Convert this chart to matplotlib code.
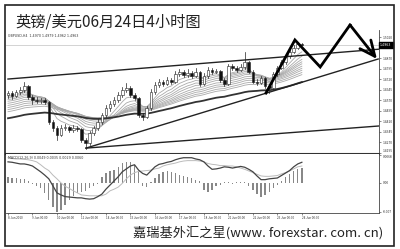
import matplotlib
matplotlib.use("Agg")
import matplotlib.pyplot as plt
import pandas as pd
from matplotlib.patches import Rectangle

plt.rcParams['font.family'] = ['Noto Sans CJK SC', 'DejaVu Sans']

# GBPUSD H4, 8 Jun 2010 .. 24 Jun 2010
close = [1.4620, 1.4599, 1.4627, 1.4642, 1.4670, 1.4592, 1.4570, 1.4563, 1.4570, 1.4556,
         1.4413, 1.4370, 1.4320, 1.4370, 1.4377, 1.4356, 1.4370, 1.4363, 1.4285, 1.4263,
         1.4335, 1.4370, 1.4413, 1.4463, 1.4513, 1.4542, 1.4570, 1.4606, 1.4642, 1.4656,
         1.4606, 1.4584, 1.4463, 1.4449, 1.4513, 1.4627, 1.4677, 1.4699, 1.4684, 1.4713,
         1.4699, 1.4756, 1.4770, 1.4749, 1.4763, 1.4742, 1.4770, 1.4684, 1.4742, 1.4784,
         1.4770, 1.4777, 1.4713, 1.4684, 1.4813, 1.4799, 1.4784, 1.4806, 1.4841, 1.4770,
         1.4699, 1.4692, 1.4727, 1.4670, 1.4656, 1.4756, 1.4799, 1.4841, 1.4884, 1.4913,
         1.4941, 1.4970, 1.4963]
opens = [1.4605] + close[:-1]
high = [1.4638, 1.4632, 1.4645, 1.4660, 1.4700, 1.4680, 1.4605, 1.4590, 1.4585, 1.4582,
        1.4565, 1.4430, 1.4385, 1.4392, 1.4398, 1.4388, 1.4395, 1.4384, 1.4372, 1.4300,
        1.4352, 1.4388, 1.4432, 1.4480, 1.4535, 1.4560, 1.4590, 1.4625, 1.4665, 1.4690,
        1.4668, 1.4620, 1.4595, 1.4478, 1.4530, 1.4650, 1.4700, 1.4718, 1.4712, 1.4735,
        1.4728, 1.4778, 1.4795, 1.4782, 1.4790, 1.4775, 1.4800, 1.4778, 1.4760, 1.4805,
        1.4798, 1.4795, 1.4788, 1.4725, 1.4830, 1.4825, 1.4815, 1.4828, 1.4913, 1.4852,
        1.4785, 1.4720, 1.4745, 1.4735, 1.4680, 1.4770, 1.4815, 1.4858, 1.4900, 1.4930,
        1.4960, 1.4985, 1.4979]
low = [1.4585, 1.4575, 1.4590, 1.4615, 1.4630, 1.4575, 1.4545, 1.4548, 1.4550, 1.4540,
       1.4400, 1.4350, 1.4285, 1.4310, 1.4355, 1.4340, 1.4345, 1.4350, 1.4270, 1.4221,
       1.4250, 1.4320, 1.4355, 1.4400, 1.4450, 1.4495, 1.4530, 1.4555, 1.4590, 1.4630,
       1.4590, 1.4570, 1.4450, 1.4425, 1.4440, 1.4500, 1.4610, 1.4665, 1.4670, 1.4675,
       1.4685, 1.4690, 1.4745, 1.4735, 1.4738, 1.4728, 1.4735, 1.4670, 1.4675, 1.4730,
       1.4755, 1.4760, 1.4700, 1.4668, 1.4675, 1.4785, 1.4770, 1.4775, 1.4795, 1.4760,
       1.4690, 1.4675, 1.4685, 1.4655, 1.4620, 1.4645, 1.4745, 1.4790, 1.4830, 1.4872,
       1.4905, 1.4935, 1.4962]

ma_periods = [6, 9, 12, 15, 18, 22, 26, 30, 35, 40]
ma_seeds = [1.4600, 1.4592, 1.4580, 1.4568, 1.4555, 1.4540, 1.4525, 1.4510, 1.4495, 1.4480]
slow_period = 60
slow_seed = 1.4434

macd_hist = [0.0015, 0.0012, 0.0012, 0.0010, 0.0010, 0.0005, -0.0002, -0.0007, -0.0012, -0.0024,
             -0.0041, -0.0058, -0.0070, -0.0065, -0.0053, -0.0041, -0.0031, -0.0024, -0.0022, -0.0019,
             -0.0012, -0.0007, -0.0002, 0.0015, 0.0024, 0.0029, 0.0031, 0.0039, 0.0048, 0.0051,
             0.0051, 0.0044, 0.0027, -0.0007, -0.0010, 0.0002, 0.0012, 0.0022, 0.0027, 0.0029,
             0.0027, 0.0024, 0.0019, 0.0017, 0.0015, 0.0012, 0.0007, 0.0005, -0.0017, -0.0022,
             -0.0017, -0.0007, -0.0005, 0.0002, 0.0002, -0.0002, 0.0002, 0.0002, 0.0002, -0.0007,
             -0.0017, -0.0027, -0.0034, -0.0029, -0.0022, -0.0012, -0.0005, 0.0005, 0.0015, 0.0022,
             0.0029, 0.0034, 0.0036]
macd_main = [0.0051, 0.0050, 0.0048, 0.0046, 0.0046, 0.0044, 0.0041, 0.0034, 0.0027, 0.0019,
             0.0010, -0.0007, -0.0024, -0.0029, -0.0033, -0.0034, -0.0035, -0.0036, -0.0036, -0.0038,
             -0.0039, -0.0038, -0.0033, -0.0027, -0.0015, -0.0005, 0.0005, 0.0015, 0.0027, 0.0034,
             0.0041, 0.0044, 0.0031, 0.0023, 0.0019, 0.0029, 0.0039, 0.0045, 0.0047, 0.0050,
             0.0052, 0.0056, 0.0059, 0.0061, 0.0061, 0.0061, 0.0058, 0.0056, 0.0051, 0.0041,
             0.0033, 0.0034, 0.0036, 0.0039, 0.0038, 0.0036, 0.0038, 0.0040, 0.0038, 0.0033,
             0.0027, 0.0017, 0.0008, 0.0008, 0.0010, 0.0011, 0.0012, 0.0018, 0.0024, 0.0030,
             0.0039, 0.0046, 0.0050]
macd_signal = [0.0061, 0.0059, 0.0058, 0.0058, 0.0057, 0.0056, 0.0054, 0.0051, 0.0044, 0.0036,
               0.0030, 0.0019, 0.0010, 0.0000, -0.0008, -0.0013, -0.0019, -0.0024, -0.0029, -0.0030,
               -0.0031, -0.0031, -0.0031, -0.0031, -0.0027, -0.0019, -0.0015, -0.0010, -0.0001, 0.0010,
               0.0019, 0.0025, 0.0028, 0.0029, 0.0030, 0.0031, 0.0034, 0.0036, 0.0041, 0.0044,
               0.0046, 0.0048, 0.0051, 0.0053, 0.0054, 0.0054, 0.0054, 0.0053, 0.0051, 0.0047,
               0.0045, 0.0044, 0.0042, 0.0042, 0.0041, 0.0041, 0.0039, 0.0036, 0.0033, 0.0029,
               0.0025, 0.0021, 0.0017, 0.0016, 0.0016, 0.0017, 0.0018, 0.0022, 0.0025, 0.0029,
               0.0034, 0.0039, 0.0041]

date_ticks = list(range(0, 73, 6))
date_labels = ['8 Jun 2010', '9 Jun 00:00', '10 Jun 00:00', '11 Jun 00:00', '14 Jun 00:00',
               '15 Jun 00:00', '16 Jun 00:00', '17 Jun 00:00', '18 Jun 00:00', '21 Jun 00:00',
               '22 Jun 00:00', '23 Jun 00:00', '24 Jun 00:00']
price_ticks = [1.5020, 1.4945, 1.4870, 1.4795, 1.4720, 1.4645, 1.4570, 1.4495,
               1.4420, 1.4345, 1.4270, 1.4195]

# hand drawn trend lines (bar index, price)
channel_top = ([0, 90.9], [1.4720, 1.4933])
support_steep = ([19.1, 90.7], [1.4227, 1.4863])
support_flat = ([19.1, 90.9], [1.4227, 1.4385])
zigzag_x = [63.2, 70.3, 76.5, 83.8]
zigzag_y = [1.4620, 1.4999, 1.4806, 1.5106]
arrow_end = (90.4, 1.4863)

W, H = 400, 249


def px_rect(l, t, r, b):
    return [l / W, 1 - b / H, (r - l) / W, (b - t) / H]


fig = plt.figure(figsize=(4, 2.49), dpi=100)
fig.patch.set_facecolor('white')
fig.patches.append(Rectangle((5 / W, 1 - 246 / H), 389 / W, 241 / H, transform=fig.transFigure,
                             fill=False, edgecolor='#222222', linewidth=1.2))

ax = fig.add_axes(px_rect(6, 30, 379, 154))
axm = fig.add_axes(px_rect(6, 154, 379, 213))

n = len(close)
idx = list(range(n))

# moving average fan
for p, s in zip(ma_periods, ma_seeds):
    ema = pd.Series([s] + close).ewm(span=p, adjust=False).mean()[1:]
    ax.plot(idx, ema.values, color='#aaaaaa', lw=0.6)
slow = pd.Series([slow_seed] + close).ewm(span=slow_period, adjust=False).mean()[1:]
ax.plot(idx, slow.values, color='#333333', lw=1.3)

# candles
for i in idx:
    o, c, h, l = opens[i], close[i], high[i], low[i]
    ax.plot([i, i], [l, h], color='#222222', lw=0.5, zorder=3)
    up = c >= o
    ax.add_patch(Rectangle((i - 0.32, min(o, c)), 0.64, max(abs(c - o), 0.0003),
                           facecolor='white' if up else '#111111', edgecolor='#222222',
                           lw=0.4, zorder=4))

# trend lines
for xs, ys in [channel_top, support_steep, support_flat]:
    ax.plot(xs, ys, color='#222222', lw=1.0, zorder=5)

ax.axhline(close[-1], color='#cccccc', lw=0.6, zorder=1)

ax.plot(zigzag_x, zigzag_y, color='black', lw=2.0, clip_on=False, zorder=6,
        solid_joinstyle='miter')
ax.annotate('', xy=arrow_end, xytext=(zigzag_x[-1], zigzag_y[-1]), annotation_clip=False,
            arrowprops=dict(arrowstyle='->,head_length=1.1,head_width=0.5', color='black',
                            lw=2.0, mutation_scale=10, shrinkA=0, shrinkB=0), zorder=6)

ax.set_xlim(-0.49, 90.9)
ax.set_ylim(1.4185, 1.5070)
ax.set_yticks(price_ticks)
ax.set_yticklabels(['%.4f' % t for t in price_ticks])
ax.yaxis.tick_right()
ax.tick_params(axis='y', labelsize=2.4, length=1.5, pad=1, colors='#333333', width=0.4)
ax.get_yticklabels()[-1].set_va('bottom')
ax.set_xticks([])
for side in ['left', 'top']:
    ax.spines[side].set_visible(False)
ax.spines['right'].set_color('#444444')
ax.spines['right'].set_linewidth(0.6)
ax.spines['bottom'].set_color('#333333')
ax.spines['bottom'].set_linewidth(1.5)
ax.text(0.005, 0.95, 'GBPUSD,H4  1.4970 1.4979 1.4962 1.4963', transform=ax.transAxes,
        fontsize=2.3, color='#333333', va='center', ha='left', family='DejaVu Sans')
ax.text(1.003, close[-1], '1.4963', transform=ax.get_yaxis_transform(), fontsize=2.3,
        color='white', va='center', ha='left', family='DejaVu Sans', zorder=10,
        bbox=dict(boxstyle='square,pad=0.4', facecolor='black', edgecolor='black'))

# MACD panel
axm.bar(idx, macd_hist, width=0.32, color='#888888', zorder=2)
axm.plot(idx, macd_signal, color='#bbbbbb', lw=0.7, zorder=3)
axm.plot(idx, macd_main, color='#444444', lw=0.9, zorder=4)
axm.set_xlim(-0.49, 90.9)
axm.set_ylim(-0.00726, 0.0070)
axm.set_yticks([0.0068, 0.0, -0.007])
axm.set_yticklabels(['0.0068', '0.00', '-0.007'])
axm.yaxis.tick_right()
axm.tick_params(axis='y', labelsize=2.4, length=1.5, pad=1, colors='#333333', width=0.4)
axm.get_yticklabels()[0].set_va('top')
axm.set_xticks(date_ticks)
axm.set_xticklabels(date_labels, ha='left')
axm.tick_params(axis='x', labelsize=2.2, length=1.2, pad=1, colors='#333333', width=0.4)
for side in ['left', 'top']:
    axm.spines[side].set_visible(False)
for side in ['right', 'bottom']:
    axm.spines[side].set_color('#444444')
    axm.spines[side].set_linewidth(0.6)
axm.text(0.005, 0.94, 'MACD(12,26,9) 0.0049 0.0035 0.0029 0.0060', transform=axm.transAxes,
         fontsize=2.3, color='#333333', va='center', ha='left', family='DejaVu Sans')

fig.text(15 / W, 1 - 22 / H, '英镑/美元06月24日4小时图', fontsize=11, fontweight='medium',
         ha='left', va='center', color='#222222')
fig.text(383 / W, 1 - 233 / H, '嘉瑞基外汇之星(www. forexstar. com. cn)', fontsize=9.5,
         fontweight='medium', ha='right', va='center', color='#222222')

fig.savefig('out.png', dpi=100)
